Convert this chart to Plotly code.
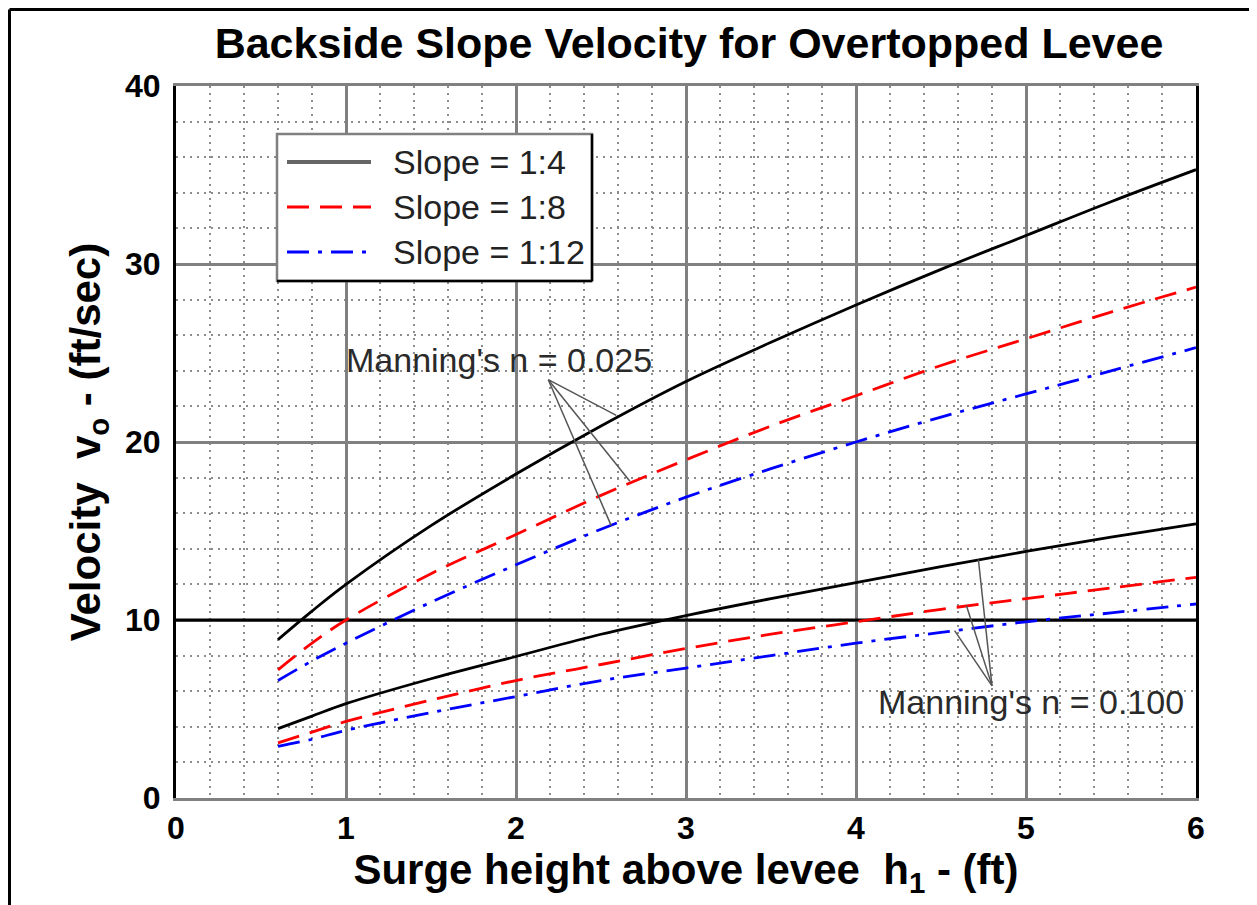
import plotly.graph_objects as go

# ---------------- data ----------------
h = [0.6, 0.8, 1.0, 1.5, 2.0, 2.5, 3.0, 3.5, 4.0, 4.5, 5.0, 5.5, 6.0]

v_14_n025 = [8.9, 10.5, 12.0, 15.3, 18.2, 20.9, 23.4, 25.6, 27.7, 29.7, 31.6, 33.5, 35.3]
v_18_n025 = [7.2, 8.7, 10.0, 12.6, 14.8, 17.0, 19.0, 20.9, 22.6, 24.3, 25.8, 27.3, 28.7]
v_112_n025 = [6.6, 7.7, 8.7, 11.0, 13.1, 15.1, 16.9, 18.5, 20.0, 21.4, 22.7, 24.0, 25.3]

v_14_n100 = [3.9, 4.6, 5.3, 6.7, 7.95, 9.2, 10.25, 11.2, 12.1, 13.0, 13.85, 14.65, 15.4]
v_18_n100 = [3.1, 3.7, 4.3, 5.5, 6.6, 7.5, 8.4, 9.2, 9.9, 10.6, 11.2, 11.8, 12.4]
v_112_n100 = [2.9, 3.3, 3.8, 4.8, 5.7, 6.6, 7.3, 8.0, 8.7, 9.3, 9.9, 10.4, 10.9]

series_names = ["Slope = 1:4", "Slope = 1:8", "Slope = 1:12"]

x_ticks = [0, 1, 2, 3, 4, 5, 6]
y_ticks = [0, 10, 20, 30, 40]
ref_level = 10  # emphasised horizontal grid line

# annotation leader lines (label origin -> curve points)
lead025_origin = (2.19, 23.5)
lead025_x = [2.59, 2.67, 2.56]
lead025_y = [21.5, 17.8, 15.3]
lead100_origin = (4.80, 6.3)
lead100_x = [4.72, 4.65, 4.58]
lead100_y = [13.4, 10.8, 9.4]

label_025 = "Manning's n = 0.025"
label_100 = "Manning's n = 0.100"

# ---------------- styles ----------------
FONT = "Liberation Sans, Arial, sans-serif"
styles = [
    dict(color="#000000", dash="solid"),
    dict(color="#ff0000", dash="22px,11px"),
    dict(color="#0000ff", dash="22px,9px,4px,9px"),
]

fig = go.Figure()

# emphasised reference line (drawn first, under the curves)
fig.add_trace(go.Scatter(
    x=[x_ticks[0], x_ticks[-1]], y=[ref_level, ref_level], mode="lines", showlegend=False,
    line=dict(color="#000000", width=2.8), hoverinfo="skip", cliponaxis=False,
))

groups = [
    [v_14_n025, v_18_n025, v_112_n025],
    [v_14_n100, v_18_n100, v_112_n100],
]
for grp in groups:
    for vals, st, nm in zip(grp, styles, series_names):
        fig.add_trace(go.Scatter(
            x=h, y=vals, mode="lines", name=nm, showlegend=False,
            line=dict(color=st["color"], dash=st["dash"], width=2.8, shape="spline"),
            hoverinfo="skip",
        ))

# leader lines
for (ox, oy), xs, ys in [(lead025_origin, lead025_x, lead025_y),
                         (lead100_origin, lead100_x, lead100_y)]:
    for tx, ty in zip(xs, ys):
        fig.add_trace(go.Scatter(
            x=[ox, tx], y=[oy, ty], mode="lines", showlegend=False,
            line=dict(color="#555555", width=1.5), hoverinfo="skip",
        ))

# page geometry (px, in the screenshot); page has an 8px body margin
OFF = 8
W, H = 1257 - OFF, 905 - OFF
L, R, T, B = 176 - OFF, 1196 - OFF, 86 - OFF, 798 - OFF
PW, PH = R - L, B - T


def px2paper_x(px):
    return (px - OFF - L) / PW


def px2paper_y(py):
    return (B - (py - OFF)) / PH


shapes = []
# outer figure frame (left + top)
shapes.append(dict(type="line", xref="paper", yref="paper",
                   x0=px2paper_x(9.5), x1=px2paper_x(9.5), y0=px2paper_y(9.5), y1=px2paper_y(910),
                   line=dict(color="#000000", width=3)))
shapes.append(dict(type="line", xref="paper", yref="paper",
                   x0=px2paper_x(9.5), x1=px2paper_x(1262), y0=px2paper_y(9.5), y1=px2paper_y(9.5),
                   line=dict(color="#000000", width=3)))

# custom legend box
lx0, lx1, ly0, ly1 = 277, 592, 134, 281
shapes.append(dict(type="rect", xref="paper", yref="paper",
                   x0=px2paper_x(lx0), x1=px2paper_x(lx1), y0=px2paper_y(ly1), y1=px2paper_y(ly0),
                   line=dict(color="#808080", width=2.5), fillcolor="white", layer="above"))
shapes.append(dict(type="line", xref="paper", yref="paper",
                   x0=px2paper_x(lx1), x1=px2paper_x(lx1), y0=px2paper_y(ly1), y1=px2paper_y(ly0),
                   line=dict(color="#000000", width=2.5), layer="above"))
shapes.append(dict(type="line", xref="paper", yref="paper",
                   x0=px2paper_x(lx0), x1=px2paper_x(lx1), y0=px2paper_y(ly1), y1=px2paper_y(ly1),
                   line=dict(color="#000000", width=2.5), layer="above"))

annotations = []
row_y = [162, 207, 252]
for ry, st, nm in zip(row_y, styles, series_names):
    shapes.append(dict(type="line", xref="paper", yref="paper",
                       x0=px2paper_x(287), x1=px2paper_x(371),
                       y0=px2paper_y(ry), y1=px2paper_y(ry),
                       line=dict(color=st["color"] if st["color"] != "#000000" else "#666666",
                                 dash=st["dash"], width=4 if st["dash"] == "solid" else 3),
                       layer="above"))
    annotations.append(dict(xref="paper", yref="paper", x=px2paper_x(391), y=px2paper_y(ry),
                            xanchor="left", yanchor="middle", text=nm, showarrow=False,
                            font=dict(family=FONT, size=34, color="#222222")))

annotations.append(dict(xref="x", yref="y", x=0.99, y=24.6, xanchor="left", yanchor="middle",
                        text=label_025, showarrow=False,
                        font=dict(family=FONT, size=34, color="#2a2a2a")))
annotations.append(dict(xref="x", yref="y", x=4.12, y=5.4, xanchor="left", yanchor="middle",
                        text=label_100, showarrow=False,
                        font=dict(family=FONT, size=34, color="#2a2a2a")))

fig.update_layout(
    width=W, height=H,
    margin=dict(l=L, r=W - R, t=T, b=H - B, autoexpand=False),
    paper_bgcolor="white", plot_bgcolor="white",
    showlegend=False,
    title=dict(text="<b>Backside Slope Velocity for Overtopped Levee</b>",
               x=(689 - OFF) / W, xanchor="center", xref="container",
               y=1 - (43 - OFF) / H, yanchor="middle", yref="container",
               font=dict(family=FONT, size=43, color="#000000")),
    shapes=shapes,
    annotations=annotations,
    font=dict(family=FONT, color="#000000"),
)

fig.update_xaxes(
    range=[0, 6], tickvals=x_ticks, ticktext=[f"<b>{t}</b>" for t in x_ticks],
    tickfont=dict(family=FONT, size=32, color="#000000"),
    showgrid=True, gridcolor="#808080", gridwidth=2.5,
    minor=dict(dtick=0.2, showgrid=True, gridcolor="#8c8c8c", gridwidth=2, griddash="2px,5px"),
    showline=True, linecolor="#808080", linewidth=3, mirror=True,
    zeroline=False, ticks="", ticklen=0, ticklabelstandoff=0, automargin=False,
    title=dict(text="<b>Surge height above levee  h<sub>1</sub> - (ft)</b>",
               font=dict(family=FONT, size=42, color="#000000"), standoff=0),
)
fig.update_yaxes(
    range=[0, 40], tickvals=y_ticks, ticktext=[f"<b>{t}</b>" for t in y_ticks],
    tickfont=dict(family=FONT, size=32, color="#000000"),
    showgrid=True, gridcolor="#808080", gridwidth=2.5,
    minor=dict(dtick=2, showgrid=True, gridcolor="#8c8c8c", gridwidth=2, griddash="2px,5px"),
    showline=True, linecolor="#000000", linewidth=3, mirror=True,
    zeroline=False, ticks="", ticklen=0, ticklabelstandoff=6, automargin=False,
    title=dict(text="<b>Velocity  v<sub>o</sub> - (ft/sec)</b>",
               font=dict(family=FONT, size=42, color="#000000"), standoff=12),
)

fig.write_html("out.html")
